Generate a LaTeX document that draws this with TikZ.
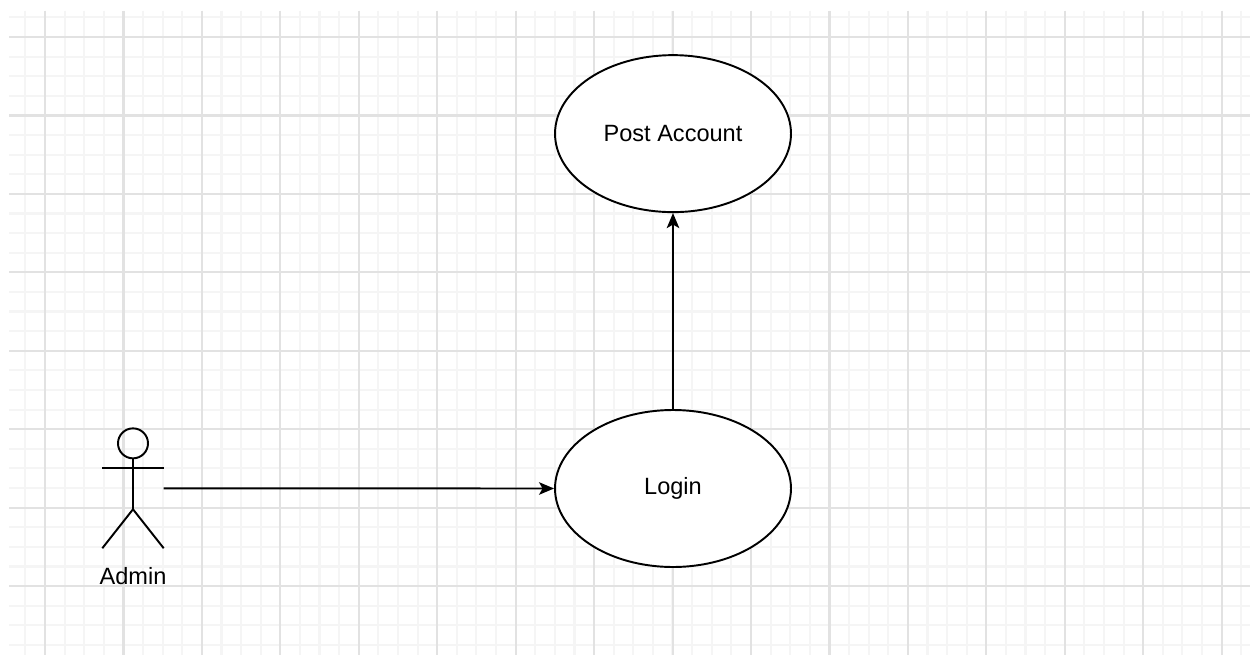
\documentclass[tikz,border=0pt]{standalone}
\usepackage{fontspec}
\setmainfont{Liberation Sans}
\usetikzlibrary{positioning,shapes.geometric,arrows.meta}
\definecolor{gridminor}{RGB}{245,245,245}
\definecolor{gridmajor}{RGB}{226,226,226}
\tikzset{every picture/.style={line width=1.1pt}}
\tikzset{
  usecase/.style={draw=black,ellipse,fill=white,minimum width=4.72cm,minimum height=3.14cm,inner sep=0pt},
  actorbox/.style={inner sep=0pt,minimum width=1.19cm,minimum height=2.36cm},
  link/.style={-{Stealth[length=0.3cm,width=0.25cm,inset=0.07cm]}},
  minor/.style={gridminor,line width=1.2pt},
  major/.style={gridmajor,line width=1.2pt}
}

\begin{document}
\begin{tikzpicture}[x=0.02cm,y=-0.02cm]
\fontsize{13.4}{16}\selectfont
\useasboundingbox (0,0) rectangle (1250,655);
\fill[white] (0,0) rectangle (1250,655);
% grid
\foreach \i in {-1,...,61}
  \draw[minor] ({45+\i*19.61},11) -- ({45+\i*19.61},655);
\foreach \j in {-1,...,31}
  \draw[minor] (9,{37+\j*19.61}) -- (1250,{37+\j*19.61});
\foreach \i in {0,...,15}
  \draw[major] ({45+\i*78.45},11) -- ({45+\i*78.45},655);
\foreach \j in {0,...,7}
  \draw[major] (9,{37+\j*78.45}) -- (1250,{37+\j*78.45});
% use cases
\node[usecase] (login) at (673,488.5) {Login};
\node[usecase,above=3.92cm of login] (post) {Post Account};
% actor
\node[actorbox] (admin) at (133,488.3) {};
\draw (admin.north) ++(0,15) circle (15);
\draw ([yshift=-0.6cm]admin.north) -- ([yshift=-0.42cm]admin.center);
\draw ([yshift=-0.8cm]admin.north west) -- ([yshift=-0.8cm]admin.north east);
\draw (admin.south west) -- ([yshift=-0.42cm]admin.center) -- (admin.south east);
\node[inner sep=0pt,below=0.36cm of admin] (adminlabel) {Admin};
% connectors
\draw[link] (admin.east) -- (login.west);
\draw[link] (login) -- (post);
\end{tikzpicture}
\end{document}
